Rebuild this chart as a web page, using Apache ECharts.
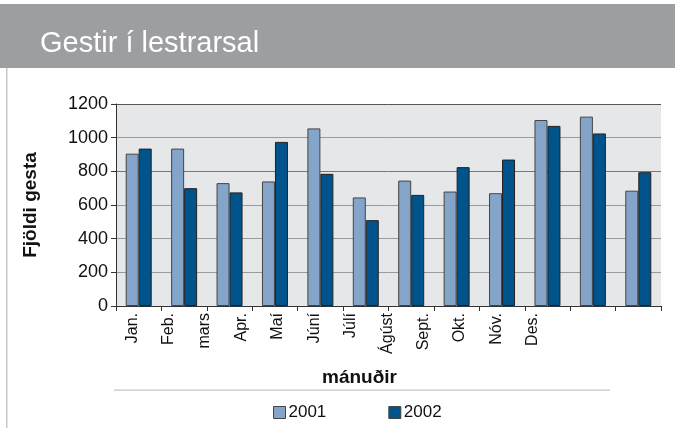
<!DOCTYPE html>
<html lang="is">
<head>
  <meta charset="utf-8">
  <title>Gestir í lestrarsal</title>
  <script src="https://cdn.jsdelivr.net/npm/echarts@6/dist/echarts.min.js"></script>
  <style>
    html, body { margin: 0; padding: 0; background: #fff; }
    #chart { width: 675px; height: 428px; }
  </style>
</head>
<body>
<div id="chart"></div>
<script>
  // months as printed under the axis
  const months = ['Jan.', 'Feb.', 'mars', 'Apr.', 'Maí', 'Júní', 'Júlí', 'Ágúst', 'Sept.', 'Okt.', 'Nóv.', 'Des.'];
  const years = ['2001', '2002'];
  const visitors2001 = [905, 935, 730, 740, 1055, 645, 745, 680, 670, 1105, 1125, 685];
  const visitors2002 = [935, 700, 675, 975, 785, 510, 660, 825, 870, 1070, 1025, 795];
  const yTicks = [0, 200, 400, 600, 800, 1000, 1200];

  const chart = echarts.init(document.getElementById('chart'));
  const font = "'Liberation Sans', Arial, sans-serif";

  chart.setOption({
    animation: false,
    graphic: [
      // grey title band
      { type: 'rect', shape: { x: 0, y: 4, width: 675, height: 64 }, style: { fill: '#9d9ea1' } },
      {
        type: 'text', x: 40, y: 29,
        style: { text: 'Gestir í lestrarsal', fill: '#fff', font: "29px 'Liberation Sans', sans-serif" }
      },
      { type: 'rect', shape: { x: 6, y: 68, width: 1.5, height: 360 }, style: { fill: '#c8c8c8' } },
      // rule above the legend
      { type: 'rect', shape: { x: 114, y: 389.5, width: 496, height: 1.2 }, style: { fill: '#c4c4c4' } }
    ],
    legend: {
      data: years,
      left: 268,
      top: 399,
      itemWidth: 12,
      itemHeight: 12,
      itemGap: 62,
      icon: 'rect',
      textStyle: { fontFamily: font, fontSize: 17, color: '#111', padding: [0, 0, 0, -2] },
      itemStyle: { borderColor: '#444', borderWidth: 1 }
    },
    grid: [
      { left: 116, right: 14, top: 104, bottom: 122, backgroundColor: '#e6e7e9', show: true, borderWidth: 0 },
      // label strip: month names sit on their own tighter spacing in the reference
      { left: 114, width: 437, top: 104, bottom: 122, show: false }
    ],
    xAxis: [
      {
        type: 'category', gridIndex: 0, data: months,
        axisLine: { lineStyle: { color: '#333', width: 1 } },
        axisTick: { show: true, length: 5, lineStyle: { color: '#333' } },
        axisLabel: { show: false }
      },
      {
        type: 'category', gridIndex: 1, data: months,
        axisLine: { show: false }, axisTick: { show: false },
        axisLabel: { rotate: 90, margin: 7, fontFamily: font, fontSize: 16, color: '#111' },
        name: 'mánuðir', nameLocation: 'middle', nameGap: 62,
        nameTextStyle: { fontFamily: font, fontSize: 19, fontWeight: 'bold', color: '#111', padding: [0, 0, 0, 54] }
      }
    ],
    yAxis: [
      {
        type: 'value', gridIndex: 0, min: yTicks[0], max: yTicks[yTicks.length - 1], interval: 200,
        axisLine: { show: true, lineStyle: { color: '#333' } },
        axisTick: { show: true, length: 5, lineStyle: { color: '#333' } },
        axisLabel: { fontFamily: font, fontSize: 18, color: '#111', margin: 8, formatter: v => String(v) },
        splitLine: { lineStyle: { color: ['#9a9a9a', '#9a9a9a', '#9a9a9a', '#9a9a9a', '#777', '#9a9a9a', '#555'], width: 1 } },
        name: 'Fjöldi gesta', nameLocation: 'middle', nameGap: 76, nameRotate: 90,
        nameTextStyle: { fontFamily: font, fontSize: 19, fontWeight: 'bold', color: '#111' }
      },
      { type: 'value', gridIndex: 1, show: false }
    ],
    series: [
      {
        name: years[0], type: 'bar', data: visitors2001,
        barWidth: 13, barGap: '0%',
        itemStyle: { color: '#84a4c9', borderColor: '#444', borderWidth: 1 }
      },
      {
        name: years[1], type: 'bar', data: visitors2002,
        barWidth: 13, barGap: '0%',
        itemStyle: { color: '#00538b', borderColor: '#222', borderWidth: 1 }
      }
    ]
  });
</script>
</body>
</html>
